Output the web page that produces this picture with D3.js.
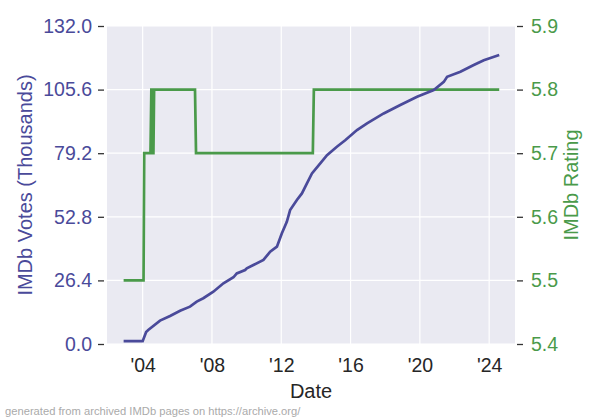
<!DOCTYPE html>
<html><head><meta charset="utf-8">
<script src="https://cdn.jsdelivr.net/npm/d3@7"></script>
<style>body{margin:0;background:#fff;} text{font-family:"Liberation Sans",Arial,sans-serif;}</style>
</head><body>
<svg id="chart" width="600" height="420"></svg>
<script>
// Votes (thousands) by decimal year
const voteYears = [2002.9, 2004.0, 2004.2, 2004.32, 2005.0, 2005.58, 2006.16, 2006.73, 2007.12, 2007.5, 2008.08, 2008.66, 2009.24, 2009.43, 2009.91, 2010.01, 2010.39, 2010.97, 2011.36, 2011.75, 2012.03, 2012.32, 2012.51, 2012.9, 2013.19, 2013.48, 2013.77, 2014.25, 2014.64, 2015.21, 2015.69, 2016.37, 2016.95, 2017.91, 2018.87, 2019.84, 2020.8, 2021.38, 2021.57, 2022.34, 2023.11, 2023.69, 2024.58];
const votes = [1.2, 1.2, 5.0, 5.8, 9.7, 11.6, 13.8, 15.5, 17.6, 19.0, 21.7, 25.2, 27.7, 29.3, 30.7, 31.4, 32.8, 34.9, 38.3, 40.4, 45.9, 50.7, 55.6, 59.8, 62.5, 66.7, 70.8, 75.0, 78.4, 81.9, 84.6, 88.8, 91.6, 95.7, 99.2, 102.6, 105.4, 108.8, 110.9, 113.0, 115.8, 117.8, 120.0];
// Rating by decimal year
const ratingYears = [2002.9, 2004.05, 2004.09, 2004.45, 2004.5, 2004.55, 2004.58, 2004.62, 2004.66, 2007.02, 2007.08, 2013.82, 2013.88, 2024.58];
const ratings = [5.5, 5.5, 5.7, 5.7, 5.8, 5.8, 5.7, 5.7, 5.8, 5.8, 5.7, 5.7, 5.8, 5.8];
const voteTicks = [0, 26.4, 52.8, 79.2, 105.6, 132.0];
const ratingTicks = [5.4, 5.5, 5.6, 5.7, 5.8, 5.9];
const yearTicks = [2004, 2008, 2012, 2016, 2020, 2024];

const svg = d3.select("#chart");
const L = 107, R = 515, T = 26, B = 344;
const voteColor = "#4a4a9a", ratingColor = "#4a9a4a";
const FS = 19.5;

function toDate(y){ const yr = Math.floor(y); const s = new Date(yr,0,1), e = new Date(yr+1,0,1); return new Date(+s + (y-yr)*(e-s)); }

const x = d3.scaleTime().domain([toDate(2001.94), toDate(2025.49)]).range([L, R]);
const yV = d3.scaleLinear().domain([0, 132]).range([B, T]);
const yR = d3.scaleLinear().domain([5.4, 5.9]).range([B, T]);

svg.append("rect").attr("x", L).attr("y", T).attr("width", R-L).attr("height", B-T).attr("fill", "#eaeaf2");

// gridlines
svg.append("g").selectAll("line").data(yearTicks).join("line")
  .attr("x1", d=>x(new Date(d,0,1))).attr("x2", d=>x(new Date(d,0,1))).attr("y1", T).attr("y2", B)
  .attr("stroke", "#fff").attr("stroke-width", 1.2);
svg.append("g").selectAll("line").data(voteTicks).join("line")
  .attr("x1", L).attr("x2", R).attr("y1", d=>yV(d)).attr("y2", d=>yV(d))
  .attr("stroke", "#fff").attr("stroke-width", 1.2);

// axes
const xAxis = d3.axisBottom(x).tickValues(yearTicks.map(d=>new Date(d,0,1)))
  .tickFormat(d=>"'" + String(d.getFullYear()).slice(2)).tickSize(0).tickPadding(14);
const gx = svg.append("g").attr("transform", `translate(0,${B})`).call(xAxis);
gx.select(".domain").remove();
gx.selectAll("text").attr("font-size", FS).attr("fill", "#262626");

const yAxisL = d3.axisLeft(yV).tickValues(voteTicks).tickFormat(d3.format(".1f")).tickSize(6).tickPadding(6);
const gl = svg.append("g").attr("transform", `translate(${L-3},0)`).call(yAxisL);
gl.select(".domain").remove();
gl.selectAll("line").attr("stroke", "#333").attr("stroke-width", 1.3);
gl.selectAll("text").attr("font-size", FS).attr("fill", voteColor);

const yAxisR = d3.axisRight(yR).tickValues(ratingTicks).tickFormat(d3.format(".1f")).tickSize(6).tickPadding(8);
const gr = svg.append("g").attr("transform", `translate(${R+2},0)`).call(yAxisR);
gr.select(".domain").remove();
gr.selectAll("line").attr("stroke", "#333").attr("stroke-width", 1.3);
gr.selectAll("text").attr("font-size", FS).attr("fill", ratingColor);

// lines
const voteData = voteYears.map((y,i)=>({d:toDate(y), v:votes[i]}));
const ratingData = ratingYears.map((y,i)=>({d:toDate(y), v:ratings[i]}));
svg.append("path").datum(ratingData)
  .attr("d", d3.line().x(d=>x(d.d)).y(d=>yR(d.v)))
  .attr("fill", "none").attr("stroke", ratingColor).attr("stroke-width", 2.7);
svg.append("path").datum(voteData)
  .attr("d", d3.line().x(d=>x(d.d)).y(d=>yV(d.v)))
  .attr("fill", "none").attr("stroke", voteColor).attr("stroke-width", 2.7);

// labels
svg.append("text").attr("transform", `translate(32,${(T+B)/2}) rotate(-90)`).attr("text-anchor", "middle")
  .attr("font-size", 20).attr("fill", voteColor).text("IMDb Votes (Thousands)");
svg.append("text").attr("transform", `translate(578,${(T+B)/2}) rotate(-90)`).attr("text-anchor", "middle")
  .attr("font-size", 20).attr("fill", ratingColor).text("IMDb Rating");
svg.append("text").attr("x", (L+R)/2).attr("y", 398).attr("text-anchor", "middle")
  .attr("font-size", 20).attr("fill", "#262626").text("Date");
svg.append("text").attr("x", 5).attr("y", 415).attr("font-size", 11.2).attr("fill", "#aaaaaa")
  .text("generated from archived IMDb pages on https://archive.org/");
</script>
</body></html>
